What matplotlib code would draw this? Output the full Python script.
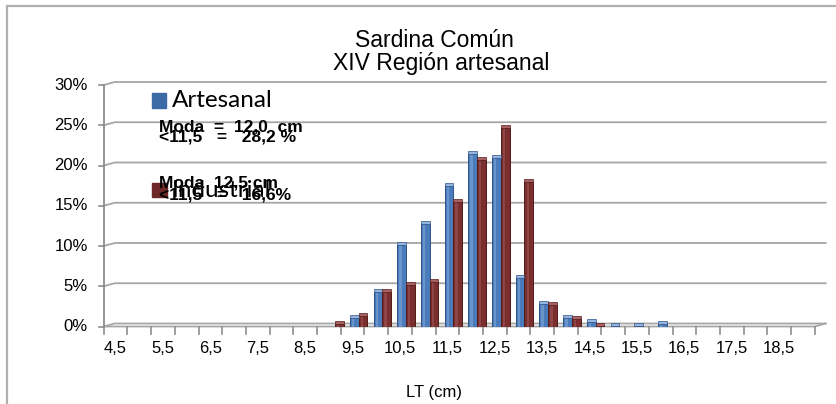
import numpy as np
import matplotlib
matplotlib.use("Agg")
import matplotlib.pyplot as plt
from matplotlib.patches import Rectangle
from matplotlib.lines import Line2D

# datos (% por talla)
lt_cm = [4.5, 5.0, 5.5, 6.0, 6.5, 7.0, 7.5, 8.0, 8.5, 9.0, 9.5, 10.0, 10.5, 11.0, 11.5,
         12.0, 12.5, 13.0, 13.5, 14.0, 14.5, 15.0, 15.5, 16.0, 16.5, 17.0, 17.5, 18.0, 18.5, 19.0]
artesanal = [0, 0, 0, 0, 0, 0, 0, 0, 0, 0, 1.0, 4.3, 10.1, 12.7, 17.5,
             21.4, 20.9, 6.0, 2.8, 1.1, 0.5, 0.05, 0.05, 0.3, 0, 0, 0, 0, 0, 0]
industrial = [0, 0, 0, 0, 0, 0, 0, 0, 0, 0.3, 1.3, 4.3, 5.2, 5.5, 15.5,
              20.7, 24.7, 18.0, 2.7, 0.9, 0.1, 0, 0, 0, 0, 0, 0, 0, 0, 0]
y_ticks = [0, 5, 10, 15, 20, 25, 30]

W, H = 836, 404
AZUL, AZUL_OSC, AZUL_CLARO = '#4A7BBA', '#2D5287', '#95B5DE'
ROJO, ROJO_OSC, ROJO_CLARO = '#7A2E2E', '#521A1A', '#A86262'
GRIS = '#A6A6A6'

plt.rcParams['font.family'] = ['Liberation Sans', 'DejaVu Sans']

fig = plt.figure(figsize=(W / 100, H / 100), dpi=100)

def fy(y):
    return 1 - y / H

# marco del grafico
fig.add_artist(Line2D([7 / W, 7 / W], [-0.1, fy(6)], color='#B0B0B0', lw=1.6))
fig.add_artist(Line2D([7 / W, 1.1], [fy(6), fy(6)], color='#B0B0B0', lw=1.6))

ax = fig.add_axes([103.7 / W, fy(326.5), 711 / W, 241.5 / H])
n = len(lt_cm)
ax.set_xlim(0, n)
ax.set_ylim(0, 30)
ax.axis('off')

SX = 711 / n        # px por categoria
SY = 241.5 / 30     # px por %
DX = 11 / SX        # profundidad 3D
DY = 3 / SY

# pared de fondo (grilla)
for y in y_ticks:
    ax.plot([0, DX, n + DX], [y, y + DY, y + DY], color=GRIS, lw=1.3, clip_on=False, zorder=1)
# piso
ax.plot([0, n, n + DX], [0, 0, DY], color=GRIS, lw=1.3, clip_on=False, zorder=1)
# eje y
ax.plot([0, 0], [0, 30], color='#8C8C8C', lw=1.3, clip_on=False, zorder=1)
for y in y_ticks:
    ax.plot([-5 / SX, 0], [y, y], color='#8C8C8C', lw=1.2, clip_on=False)
    ax.text(-(104 - 88) / SX, y, f"{y}%", ha='right', va='center', fontsize=12)
# eje x
for i in range(n + 1):
    ax.plot([i, i], [0, -7 / SY], color='#8C8C8C', lw=1.2, clip_on=False)
for i, v in enumerate(lt_cm):
    if i % 2 == 0:
        ax.text(i + 0.5, -(353 - 326.5) / SY, f"{v:.1f}".replace('.', ','),
                ha='center', va='baseline', fontsize=12)

x = np.arange(n)

def barras(vals, off, col, col_osc, col_claro):
    vals = np.array(vals)
    m = vals > 0
    xs = x[m] + off
    ax.bar(xs, vals[m], width=0.37, color=col, edgecolor=col_osc, lw=0.7, zorder=3)
    ax.bar(xs - 0.05, vals[m], width=0.1, color=col_claro, alpha=0.45, lw=0, zorder=4)
    ax.bar(xs, DY, bottom=vals[m], width=0.37, color=col_claro, edgecolor=col_osc,
           lw=0.5, zorder=4)

barras(artesanal, 0.57, AZUL, AZUL_OSC, AZUL_CLARO)
barras(industrial, 0.94, ROJO, ROJO_OSC, ROJO_CLARO)

# titulos
fig.text(434 / W, fy(47), "Sardina Común", ha='center', va='baseline', fontsize=16.5)
fig.text(441 / W, fy(70), "XIV Región artesanal", ha='center', va='baseline', fontsize=16.5)
fig.text(434 / W, fy(397), "LT (cm)", ha='center', va='baseline', fontsize=12)

# leyenda
fig.add_artist(Rectangle((152 / W, fy(108)), 14 / W, 15 / H, color='#3B6AA6',
                         transform=fig.transFigure))
fig.text(172 / W, fy(107), "Artesanal", fontsize=17.5, family=['Lato', 'DejaVu Sans'])
fig.add_artist(Rectangle((152 / W, fy(197)), 15 / W, 14 / H, color='#6E2727',
                         transform=fig.transFigure))
fig.text(172 / W, fy(197), "Industrial", fontsize=17.5, family=['Lato', 'DejaVu Sans'])

# anotaciones
fig.text(159 / W, fy(131), "Moda  =  12,0  cm", fontsize=12.5, fontweight='bold')
fig.text(159 / W, fy(142), "<11,5   =   28,2 %", fontsize=12.5, fontweight='bold')
fig.text(159 / W, fy(187), "Moda  12,5 cm", fontsize=12.5, fontweight='bold')
fig.text(159 / W, fy(200), "<11,5   =   16,6%", fontsize=12.5, fontweight='bold')

fig.savefig('out.png', dpi=100)
